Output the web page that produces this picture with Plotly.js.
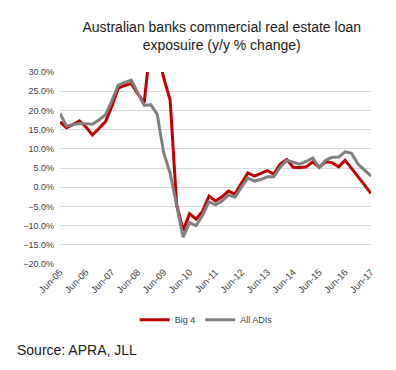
<!DOCTYPE html>
<html>
<head>
<meta charset="utf-8">
<script src="https://cdn.plot.ly/plotly-3.0.1.min.js"></script>
<style>html,body{margin:0;padding:0;background:#fff;}#chart{width:396px;height:370px;}</style>
</head>
<body>
<div id="chart"></div>
<script>
const quarters = [
 "Jun-05","Sep-05","Dec-05","Mar-06","Jun-06","Sep-06","Dec-06","Mar-07",
 "Jun-07","Sep-07","Dec-07","Mar-08","Jun-08","Sep-08","Dec-08","Mar-09",
 "Jun-09","Sep-09","Dec-09","Mar-10","Jun-10","Sep-10","Dec-10","Mar-11",
 "Jun-11","Sep-11","Dec-11","Mar-12","Jun-12","Sep-12","Dec-12","Mar-13",
 "Jun-13","Sep-13","Dec-13","Mar-14","Jun-14","Sep-14","Dec-14","Mar-15",
 "Jun-15","Sep-15","Dec-15","Mar-16","Jun-16","Sep-16","Dec-16","Mar-17",
 "Jun-17"
];
const big4 = [
 17.0,15.5,16.3,17.3,15.7,13.6,15.3,17.0,
 21.0,25.8,26.5,27.0,24.3,22.0,38.0,36.0,
 28.5,22.7,-4.5,-11.3,-6.9,-8.3,-6.3,-2.3,
 -3.6,-2.5,-1.0,-1.8,1.0,3.7,2.9,3.5,
 4.3,3.4,6.0,7.2,5.2,5.1,5.3,6.6,
 5.2,6.6,6.4,5.3,7.0,4.9,2.8,0.6,
 -1.6
];
const allADIs = [
 19.2,15.9,16.3,16.6,16.5,16.4,17.5,18.8,
 22.5,26.6,27.3,27.9,24.6,21.3,21.5,19.0,
 9.0,3.6,-4.7,-13.0,-9.2,-10.0,-7.3,-3.8,
 -4.6,-3.6,-2.0,-2.6,0.0,2.4,1.6,2.0,
 2.7,2.7,5.3,7.0,6.5,6.0,6.7,7.6,
 5.1,7.0,7.8,7.8,9.2,8.8,6.0,4.4,
 2.9
];
const tickLabels = ["Jun-05","Jun-06","Jun-07","Jun-08","Jun-09","Jun-10","Jun-11","Jun-12","Jun-13","Jun-14","Jun-15","Jun-16","Jun-17"];

const font = "Liberation Sans, Arial, sans-serif";
const traces = [
 {x: quarters, y: big4, type: 'scatter', mode: 'lines', name: 'Big 4',
  line: {color: '#C00000', width: 3}},
 {x: quarters, y: allADIs, type: 'scatter', mode: 'lines', name: 'All ADIs',
  line: {color: '#808080', width: 3}}
];
const layout = {
 width: 396, height: 370,
 margin: {l: 60, r: 25, t: 72, b: 106},
 paper_bgcolor: '#fff', plot_bgcolor: '#fff',
 font: {family: font, color: '#595959', size: 9},
 title: {text: 'Australian banks commercial real estate loan<br>exposuire (y/y % change)',
   x: 0.52, xanchor: 'center', xref: 'paper', y: 1 - 32/370, yanchor: 'top', yref: 'container',
   font: {family: font, size: 14, color: '#1a1a1a'}},
 xaxis: {type: 'category', range: [0, 48], tickmode: 'array', tickvals: tickLabels, ticktext: tickLabels,
   tickangle: -45, showgrid: false, zeroline: false, showline: false, ticks: '',
   tickfont: {family: font, size: 9.5, color: '#404040'}},
 yaxis: {range: [-20, 30], dtick: 5, tick0: 0, tickformat: '.1f', ticksuffix: '%',
   showgrid: true, gridcolor: '#d9d9d9', gridwidth: 1, zeroline: false, showline: false,
   ticks: '', ticklabelstandoff: 5, tickfont: {family: font, size: 9, color: '#404040'}},
 showlegend: true,
 legend: {orientation: 'h', x: 0.47, xanchor: 'center', y: -0.215, yanchor: 'top',
   font: {family: font, size: 9, color: '#404040'}, itemwidth: 30, tracegroupgap: 0},
 annotations: [{text: 'Source: APRA, JLL', xref: 'paper', yref: 'paper', x: -0.145, y: -0.397,
   xanchor: 'left', yanchor: 'top', showarrow: false,
   font: {family: font, size: 14, color: '#1a1a1a'}}]
};
Plotly.newPlot('chart', traces, layout, {displayModeBar: false, staticPlot: true});
</script>
</body>
</html>
